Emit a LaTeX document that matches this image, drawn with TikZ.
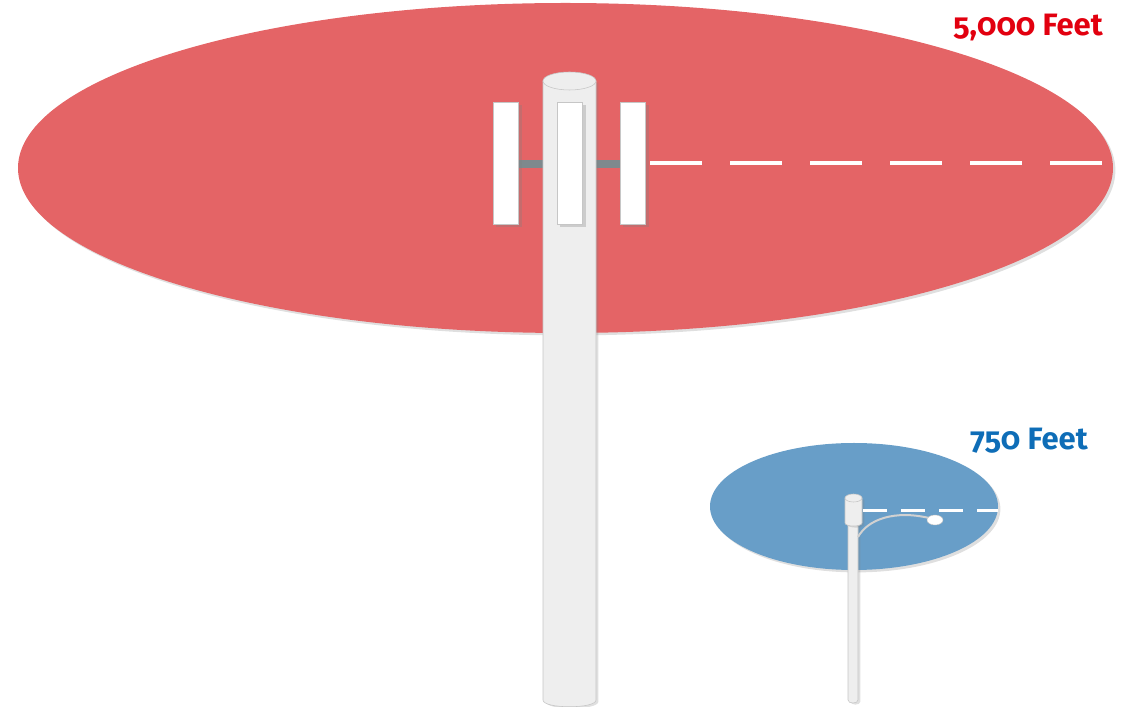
\documentclass[tikz,border=0pt]{standalone}
\usepackage{fontspec}
\newfontfamily\labelfont{Fira Sans}[Numbers=OldStyle]
\usetikzlibrary{shadows}
\definecolor{zonered}{HTML}{E46466}
\definecolor{zoneblue}{HTML}{689EC8}
\definecolor{labelred}{HTML}{E2000F}
\definecolor{labelblue}{HTML}{0E6DB7}
\definecolor{mast}{HTML}{EEEEEE}
\definecolor{mastedge}{HTML}{C6C6C6}
\definecolor{bracket}{HTML}{7E898D}
\begin{document}
\begin{tikzpicture}[x=0.025cm,y=-0.025cm,
  zone/.style={drop shadow={shadow xshift=0.06cm,shadow yshift=-0.06cm,opacity=0.25}},
  panel/.style={fill=white,draw=mastedge,line width=0.3pt,
    drop shadow={shadow xshift=0.08cm,shadow yshift=-0.08cm,opacity=0.3}},
  pole/.style={fill=mast,draw=mastedge,line width=0.4pt,
    drop shadow={shadow xshift=0.06cm,shadow yshift=-0.04cm,opacity=0.25}},
  reach/.style={white,line width=#1},
  feet/.style={font=\labelfont\bfseries\fontsize{22}{26}\selectfont,inner sep=0pt,anchor=base east}]
\useasboundingbox (0,0) rectangle (1127,707);
% coverage zones
\fill[zonered,zone] (565.5,168) ellipse [x radius=547.5, y radius=165];
\fill[zoneblue,zone] (854,506.5) ellipse [x radius=144, y radius=63.5];
% cell tower with its antenna bracket
\fill[bracket] (518,160) rectangle (620,168);
\draw[pole] (543,81) -- (543,700) .. controls (543,709) and (596,709) .. (596,700) -- (596,81) -- cycle;
\draw[mastedge,fill=mast] (569.5,81) ellipse [x radius=26.5, y radius=9];
\foreach \x in {493,557,620}{
 \draw[panel] (\x,102) rectangle ++(25.5,122);
}
\coordinate (towertip) at (650,163);
\coordinate (towerrim) at (1113,163);
\draw[reach=0.0875cm,dash pattern=on 1.3cm off 0.7cm] (towertip) -- (towerrim);
% street light
\draw[pole] (848,522) -- (848,700) .. controls (848,704) and (858,704) .. (858,700) -- (858,522) -- cycle;
\draw[pole] (845,498) -- (845,523) .. controls (845,527) and (862,527) .. (862,523) -- (862,498) -- cycle;
\draw[mastedge,fill=mast] (853.5,498) ellipse [x radius=8.5, y radius=4];
\draw[mastedge!80!white,line width=0.05cm] (858,537) .. controls (868,519) and (895,510) .. (929,518);
\draw[mastedge,fill=white,line width=0.3pt] (935,520) ellipse [x radius=8, y radius=5];
\coordinate (lamptip) at (863,511);
\coordinate (lamprim) at (998,511);
\draw[reach=0.075cm,dash pattern=on 0.6cm off 0.35cm] (lamptip) -- (lamprim);
% range labels
\node[feet,text=labelred] (farlabel) at (1103,36) {5,000 Feet};
\node[feet,text=labelblue] (nearlabel) at (1088,450) {750 Feet};
\end{tikzpicture}
\end{document}
